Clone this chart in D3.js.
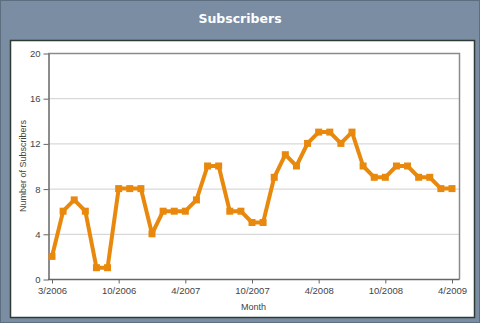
<!DOCTYPE html>
<html>
<head>
<meta charset="utf-8">
<script src="https://cdn.jsdelivr.net/npm/d3@7"></script>
<style>
  body { margin: 0; background: #7a8da2; }
  svg { display: block; font-family: "Liberation Sans", Arial, sans-serif; }
</style>
</head>
<body>
<div id="chart"></div>
<script>
var title = "Subscribers";
var subscribers = [2, 6, 7, 6, 1, 1, 8, 8, 8, 4, 6, 6, 6, 7, 10, 10, 6, 6, 5, 5,
  9, 11, 10, 12, 13, 13, 12, 13, 10, 9, 9, 10, 10, 9, 9, 8, 8];
var tickIdx = [0, 6, 12, 18, 24, 30, 36];
var tickLabels = ["3/2006", "10/2006", "4/2007", "10/2007", "4/2008", "10/2008", "4/2009"];
var yTicks = [0, 4, 8, 12, 16, 20];

var W = 480, H = 323;
var svg = d3.select("#chart").append("svg")
  .attr("width", W)
  .attr("height", H);

// outer frame
svg.append("rect")
  .attr("x", 0.5).attr("y", 0.5)
  .attr("width", W - 1).attr("height", H - 1)
  .attr("fill", "#7a8da2")
  .attr("stroke", "#5d6e80");

svg.append("text")
  .attr("x", W / 2)
  .attr("y", 23)
  .attr("text-anchor", "middle")
  .attr("fill", "#ffffff")
  .style("font-family", "'DejaVu Sans', sans-serif")
  .style("font-weight", "bold")
  .style("font-size", "12.5px")
  .text(title);

// white panel
svg.append("rect")
  .attr("x", 10.5).attr("y", 40.5)
  .attr("width", 464).attr("height", 277)
  .attr("fill", "#ffffff")
  .attr("stroke", "#2e3a34")
  .attr("stroke-width", 1.5);

var plot = {left: 48, right: 459, top: 53, bottom: 279};

var x = d3.scaleLinear()
  .domain([0, subscribers.length - 1])
  .range([52, 452]);
var y = d3.scaleLinear()
  .domain([0, 20])
  .range([plot.bottom, plot.top]);

// gridlines
svg.append("g")
  .selectAll("line")
  .data(yTicks.filter(function(d) { return d > 0 && d < 20; }))
  .enter().append("line")
  .attr("x1", plot.left).attr("x2", plot.right)
  .attr("y1", function(d) { return y(d) + 0.5; })
  .attr("y2", function(d) { return y(d) + 0.5; })
  .attr("stroke", "#cfcfcf");

// plot frame (top and right)
svg.append("path")
  .attr("d", "M" + plot.left + "," + (plot.top + 0.5) + "H" + (plot.right + 0.5) + "V" + (plot.bottom + 0.5))
  .attr("fill", "none")
  .attr("stroke", "#8a8a8a")
  .attr("stroke-width", 1.5);

var yAxis = d3.axisLeft(y)
  .tickValues(yTicks)
  .tickSize(5)
  .tickPadding(3)
  .tickSizeOuter(0);
var gy = svg.append("g")
  .attr("transform", "translate(" + (plot.left + 0.5) + ",0.5)")
  .call(yAxis);

var xAxis = d3.axisBottom(x)
  .tickValues(tickIdx)
  .tickFormat(function(d, i) { return tickLabels[i]; })
  .tickSize(4)
  .tickPadding(4)
  .tickSizeOuter(0);
var gx = svg.append("g")
  .attr("transform", "translate(0," + (plot.bottom + 0.5) + ")")
  .call(xAxis);
gx.select(".domain").attr("d", "M" + plot.left + ",0H" + (plot.right + 0.5));

[gx, gy].forEach(function(g) {
  g.select(".domain").attr("stroke", "#666").attr("stroke-width", 1.5);
  g.selectAll(".tick line").attr("stroke", "#666");
  g.selectAll(".tick text")
    .attr("fill", "#444")
    .style("font-size", "9.5px")
    .style("font-family", "'Liberation Sans', Arial, sans-serif");
});

svg.append("text")
  .attr("x", (plot.left + plot.right) / 2)
  .attr("y", 310)
  .attr("text-anchor", "middle")
  .attr("fill", "#444")
  .style("font-size", "9px")
  .text("Month");

svg.append("text")
  .attr("transform", "translate(26," + ((plot.top + plot.bottom) / 2) + ") rotate(-90)")
  .attr("text-anchor", "middle")
  .attr("fill", "#444")
  .style("font-size", "9px")
  .text("Number of Subscribers");

// line + markers
var line = d3.line()
  .x(function(d, i) { return x(i); })
  .y(function(d) { return y(d); });

svg.append("path")
  .datum(subscribers)
  .attr("fill", "none")
  .attr("stroke", "#e8890d")
  .attr("stroke-width", 4)
  .attr("stroke-linejoin", "round")
  .attr("d", line);

svg.append("g")
  .selectAll("rect")
  .data(subscribers)
  .enter().append("rect")
  .attr("x", function(d, i) { return x(i) - 3.5; })
  .attr("y", function(d) { return y(d) - 3.5; })
  .attr("width", 7)
  .attr("height", 7)
  .attr("fill", "#e8890d");
</script>
</body>
</html>
